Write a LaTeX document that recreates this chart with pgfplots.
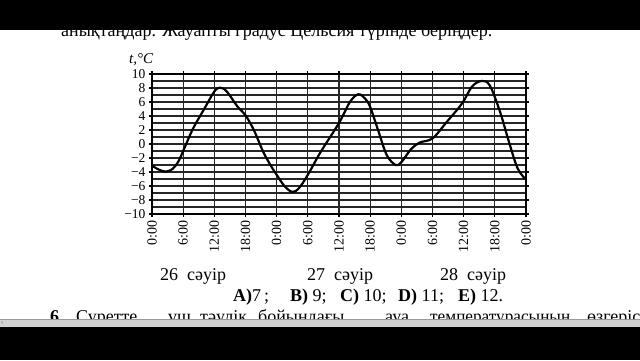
\documentclass[border=0pt]{standalone}
\usepackage{pgfplots}
\pgfplotsset{compat=1.18}
\usepackage{graphicx}
\usepackage{fontspec}
\setmainfont{Liberation Serif}
\begin{document}
\begin{tikzpicture}
\useasboundingbox (0,0) rectangle (640pt,360pt);
\fill[white] (0,0) rectangle (640pt,360pt);
\begin{axis}[
  at={(152pt,146pt)}, anchor=south west,
  scale only axis, width=374pt, height=140pt,
  xmin=0, xmax=72, ymin=-10, ymax=10,
  xtick={0,6,...,72},
  xticklabels={0:00,6:00,12:00,18:00,0:00,6:00,12:00,18:00,0:00,6:00,12:00,18:00,0:00},
  ytick={-10,-8,...,10},
  yticklabels={−10,−8,−6,−4,−2,0,2,4,6,8,10},
  minor ytick={-9,-7,...,9},
  grid=both,
  grid style={black!85, line width=1.1pt},
  minor grid style={black!85, line width=1.1pt},
  axis line style={black, line width=1.2pt},
  tick align=outside, major tick length=3pt, minor tick length=0pt,
  tick style={black, line width=1.1pt},
  xticklabel style={rotate=90, anchor=east, font=\fontsize{14}{14}\selectfont},
  yticklabel style={font=\fontsize{13.5}{14}\selectfont},
]
\addplot[black, line width=2.2pt, smooth, tension=0.55] coordinates {
(0,-3.1) (1.3,-3.65) (2.6,-3.95) (3.9,-3.6) (5.0,-2.6) (6.0,-1.0) (7.9,2.2)
(10.2,5.2) (12.0,7.5) (13.1,8.05) (14.4,7.5) (16.4,5.4) (18.0,4.1) (19.6,2.0)
(21.4,-1.1) (22.8,-3.0) (24.0,-4.4) (25.5,-6.0) (27.0,-6.85) (28.3,-6.3)
(30.0,-4.4) (32.5,-1.1) (36.0,3.0) (38.1,6.0) (39.7,7.1) (41.0,6.5) (42.0,5.3)
(43.6,1.8) (45.2,-1.6) (46.9,-3.0) (48.0,-2.6) (49.8,-0.8) (51.5,0.2) (54.0,0.8)
(56.8,3.2) (59.7,5.8) (61.6,8.2) (63.4,9.0) (65.0,8.4) (67.0,4.6) (68.8,0.1)
(70.4,-3.5) (72.0,-5.1)
};
\end{axis}
% y label
\node[anchor=base west, inner sep=0pt, font=\fontsize{15}{15}\selectfont\itshape] at (129pt,297pt) {t,°C};
\begin{scope}[every node/.style={anchor=base west, inner sep=0pt, font=\fontsize{18}{18}\selectfont}]
% top text line
\node at (61pt,324pt) {анықтаңдар. Жауапты градус Цельсия түрінде беріңдер.};
% dates
\node at (160pt,80pt) {26\ \ сәуір};
\node at (307pt,80pt) {27\ \ сәуір};
\node at (440pt,80pt) {28\ \ сәуір};
% answers
\node at (233pt,59pt) {\textbf{A)}7\,;};
\node at (290pt,59pt) {\textbf{B)} 9;};
\node at (340pt,59pt) {\textbf{C)} 10;};
\node at (398pt,59pt) {\textbf{D)} 11;};
\node at (458pt,59pt) {\textbf{E)} 12.};
% bottom line
\node at (50pt,37.5pt) {\textbf{6.}};
\node at (76pt,37.5pt) {Суретте};
\node at (168pt,37.5pt) {үш};
\node at (200pt,37.5pt) {тәулік};
\node at (258pt,37.5pt) {бойындағы};
\node at (385pt,37.5pt) {ауа};
\node at (430pt,37.5pt) {\resizebox{140pt}{\height}{температурасының}};
\node at (587pt,37.5pt) {өзгерісі};
\end{scope}
% screen bars
\fill[black] (0,330pt) rectangle (640pt,360pt);
\fill[black!18] (0,33pt) rectangle (640pt,41pt);
\draw[black!40, line width=0.4pt] (0,41pt) -- (640pt,41pt);
\node[anchor=west, inner sep=0pt, font=\fontsize{7}{7}\selectfont, text=black!60] at (1pt,37pt) {‹};
\fill[black] (0,0) rectangle (640pt,33pt);
\end{tikzpicture}
\end{document}
